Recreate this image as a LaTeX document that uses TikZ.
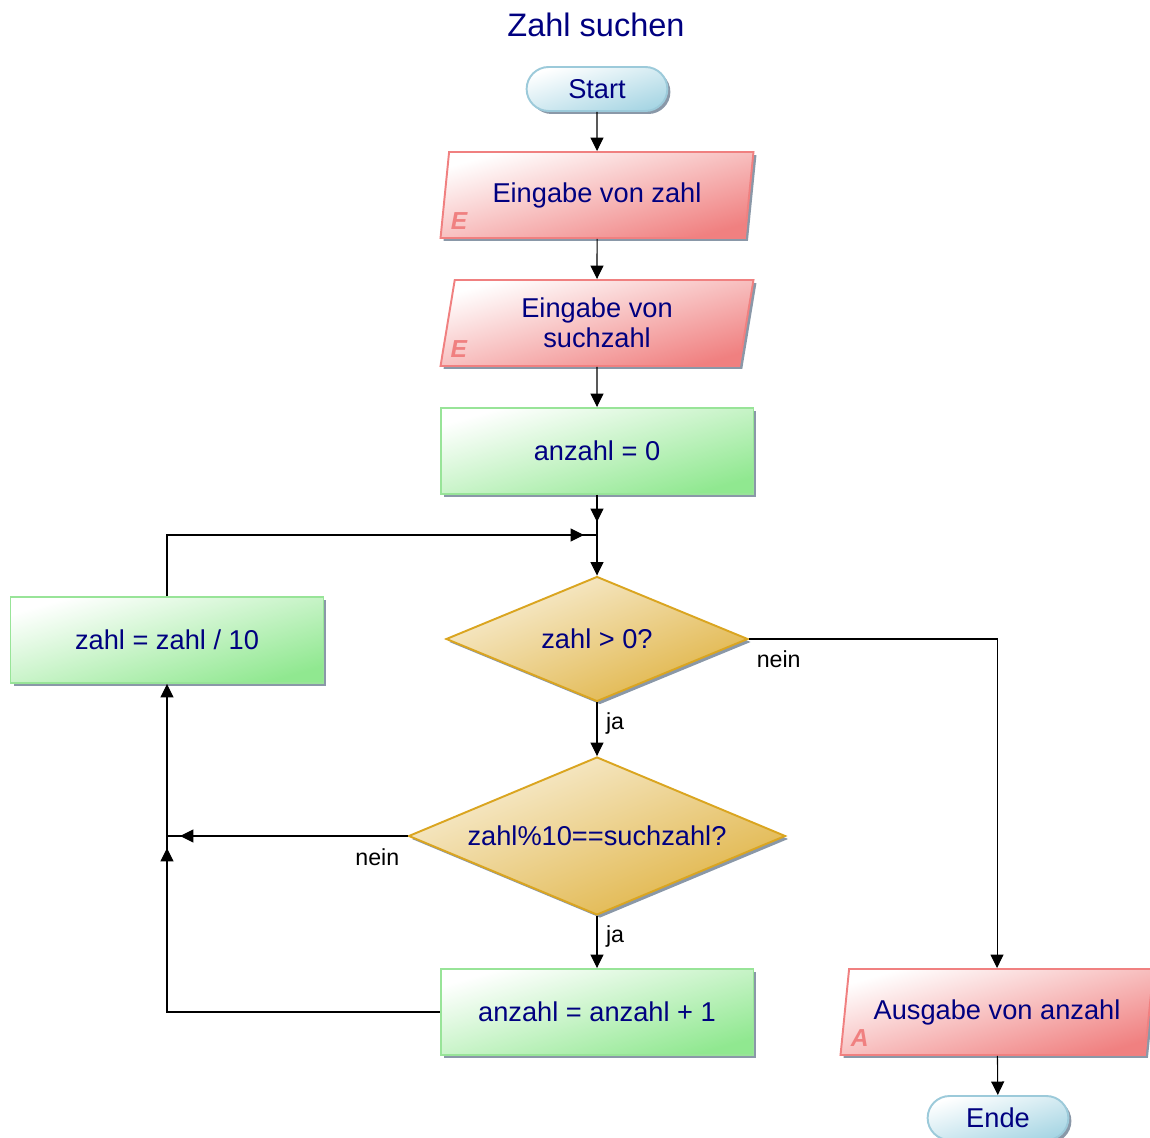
\documentclass[tikz,border=0pt]{standalone}
\usepackage{fontspec}
\setmainfont{Liberation Sans}
\usepackage{tikz}
\usetikzlibrary{positioning, shapes.geometric, shapes.misc, arrows.meta, shadows, calc}
\definecolor{textblau}{HTML}{000080}
\definecolor{termblau}{HTML}{A8D6E4}
\definecolor{termrand}{HTML}{9CCADA}
\definecolor{iorot}{HTML}{F08080}
\definecolor{procgruen}{HTML}{90E890}
\definecolor{procrand}{HTML}{98E498}
\definecolor{entgold}{HTML}{DAA520}
\definecolor{schattengrau}{HTML}{8A98A8}

\begin{document}
\begin{tikzpicture}[x=0.02cm, y=-0.02cm,
                every node/.style={text=textblau, font=\fontsize{15.5}{17}\selectfont},
                schatten/.style={drop shadow={shadow xshift=0.06cm, shadow yshift=-0.06cm, fill=schattengrau, opacity=1}},
                titel/.style={font=\fontsize{18.5}{20}\selectfont},
                terminal/.style={rounded rectangle, draw=termrand, line width=1.1pt, left color=white, right color=termblau, shading angle=17, minimum width=3.05cm, minimum height=0.88cm, schatten},
                ein/.style={trapezium, trapezium left angle=77, trapezium right angle=103, trapezium stretches body=true, draw=iorot, line width=1.1pt, left color=white, right color=iorot, shading angle=16, minimum width=6.26cm, minimum height=1.72cm, align=center, schatten},
                proz/.style={rectangle, draw=procrand, line width=1.1pt, left color=white, right color=procgruen, shading angle=16, minimum width=6.26cm, minimum height=1.72cm, schatten},
                entsch/.style={diamond, aspect=2.4, inner sep=0pt, draw=entgold, line width=1.1pt, left color=entgold!18!white, right color=entgold!85!white, shading angle=22, schatten},
                marke/.style={text=iorot, inner sep=0pt, font=\fontsize{14}{14}\selectfont\bfseries\itshape},
                zweig/.style={text=black, font=\fontsize{13.2}{15}\selectfont},
                linie/.style={line width=0.6pt},
                flow/.style={line width=0.6pt, -{Triangle[length=0.27cm, width=0.26cm]}}
            ]
            \useasboundingbox (0,0) rectangle (1150,1138);

            % Knoten
            \node[titel] (titel) at (596,25) {Zahl suchen};
            \node[terminal] (start) at (597,89) {Start};
            \node[ein] (einzahl) at (597,195) {Eingabe von zahl};
            \node[ein] (einsuch) at (597,323) {Eingabe von\\suchzahl};
            \node[proz] (init) at (597,451) {anzahl = 0};
            \node[entsch, minimum width=6.04cm, minimum height=2.5cm] (groesser) at (597,639) {zahl > 0?};
            \node[proz] (teilen) at (167,640) {zahl = zahl / 10};
            \node[entsch, minimum width=7.54cm, minimum height=3.16cm] (treffer) at (597,836) {zahl\%10==suchzahl?};
            \node[proz] (zaehlen) at (597,1012) {anzahl = anzahl + 1};
            \node[ein] (ausgabe) at (997,1012) {Ausgabe von anzahl};
            \node[terminal] (ende) at (998,1118) {Ende};

            % Markierungen E / A
            \node[marke, anchor=base west] (einzahlE) at ([shift={(0.22cm,0.18cm)}]einzahl.bottom left corner) {E};
            \node[marke, anchor=base west] (einsuchE) at ([shift={(0.22cm,0.18cm)}]einsuch.bottom left corner) {E};
            \node[marke, anchor=base west] (ausgabeA) at ([shift={(0.22cm,0.18cm)}]ausgabe.bottom left corner) {A};

            % Zusammenfuehrungen
            \coordinate (oben) at (597,535);
            \coordinate (links) at (167,836);

            % Kanten zwischen Knoten
            \draw[flow] (start) -- (einzahl);
            \draw[flow] (einzahl) -- (einsuch);
            \draw[flow] (einsuch) -- (init);
            \draw[linie] (init) -- (oben);
            \draw[flow, shorten >=0.26cm] (init) -- (oben);
            \draw[flow] (oben) -- (groesser);
            \draw[flow] (groesser.east) -| (ausgabe.north) node[pos=0.06, below=3pt, zweig] {nein};
            \draw[flow] (groesser) -- (treffer) node[pos=0.4, right=1.5pt, zweig] {ja};
            \draw[flow] (treffer) -- (zaehlen) node[pos=0.4, right=1.5pt, zweig] {ja};
            \draw[linie] (treffer.west) -- (links);
            \draw[flow, shorten >=0.26cm] (treffer.west) -- (links) node[pos=0.03, below left=3.5pt and -3pt, zweig] {nein};
            \draw[linie] (zaehlen.west) -| (links);
            \draw[flow, shorten >=0.24cm] (zaehlen.west) -| (links);
            \draw[flow] (links) -- (teilen.south);
            \draw[linie] (teilen.north) |- (oben);
            \draw[flow, shorten >=0.26cm] (teilen.north) |- (oben);
            \draw[flow] (ausgabe) -- (ende);

        \end{tikzpicture}
\end{document}
